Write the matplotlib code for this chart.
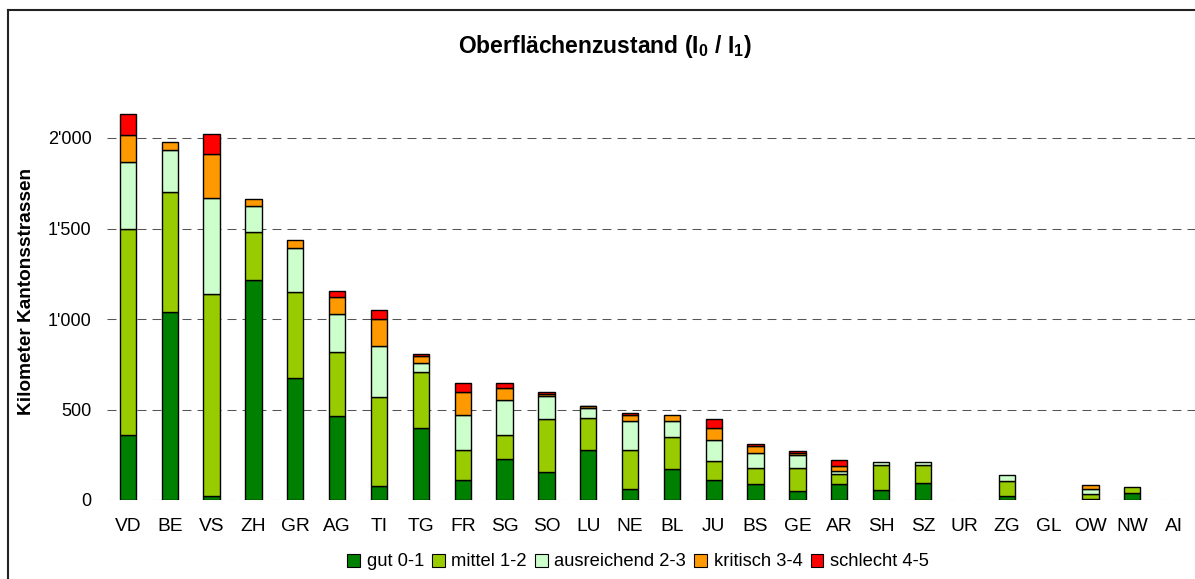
import matplotlib
matplotlib.use("Agg")
import matplotlib.pyplot as plt
from matplotlib.patches import Patch
from matplotlib.lines import Line2D
from matplotlib.ticker import FuncFormatter
import numpy as np

plt.rcParams['font.family'] = ['Liberation Sans', 'DejaVu Sans']
plt.rcParams['mathtext.fontset'] = 'custom'
plt.rcParams['mathtext.rm'] = 'Liberation Sans:bold'
plt.rcParams['mathtext.it'] = 'Liberation Sans:bold'
plt.rcParams['mathtext.bf'] = 'Liberation Sans:bold'

cantons = ["VD", "BE", "VS", "ZH", "GR", "AG", "TI", "TG", "FR", "SG", "SO", "LU", "NE",
           "BL", "JU", "BS", "GE", "AR", "SH", "SZ", "UR", "ZG", "GL", "OW", "NW", "AI"]

gut = [360, 1041, 22, 1213, 676, 464, 79, 400, 111, 227, 153, 277, 63,
       170, 111, 87, 48, 88, 55, 95, 0, 22, 0, 7, 40, 0]
mittel = [1137, 658, 1117, 267, 472, 356, 492, 308, 166, 133, 295, 178, 214,
          180, 107, 88, 131, 55, 138, 98, 0, 83, 0, 24, 33, 0]
ausreichend = [369, 236, 529, 146, 244, 207, 282, 48, 193, 193, 129, 56, 162,
               89, 114, 83, 72, 17, 18, 18, 0, 33, 0, 31, 0, 0]
kritisch = [152, 43, 245, 37, 42, 97, 148, 41, 124, 65, 10, 6, 31,
            33, 65, 41, 10, 27, 0, 0, 0, 0, 0, 21, 0, 0]
schlecht = [115, 0, 107, 0, 0, 32, 50, 9, 50, 26, 7, 5, 13,
            0, 53, 11, 9, 32, 0, 0, 0, 0, 0, 0, 0, 0]

series = [("gut 0-1", gut, "#008000"),
          ("mittel 1-2", mittel, "#99CC00"),
          ("ausreichend 2-3", ausreichend, "#CCFFCC"),
          ("kritisch 3-4", kritisch, "#FF9900"),
          ("schlecht 4-5", schlecht, "#FF0000")]

W, H = 1195, 579
fig = plt.figure(figsize=(W / 100, H / 100), dpi=100)

ax_left, ax_right = 107, 1195
ax_bottom_px, ax_top_px = 500, 92.75
ax = fig.add_axes([ax_left / W, 1 - ax_bottom_px / H,
                   (ax_right - ax_left) / W, (ax_bottom_px - ax_top_px) / H])

x = np.arange(len(cantons))
bottom = np.zeros(len(cantons))
for name, vals, col in series:
    v = np.array(vals, dtype=float)
    lw = [1.0 if val > 0 else 0.0 for val in v]
    ax.bar(x, v, width=0.39, bottom=bottom, color=col, edgecolor="black",
           linewidth=lw, zorder=3)
    bottom += v

ax.set_xlim(-0.5, len(cantons) - 0.5)
ax.set_ylim(0, 2250)
ax.set_yticks([0, 500, 1000, 1500, 2000])
ax.yaxis.set_major_formatter(FuncFormatter(lambda v, p: f"{int(v):,}".replace(",", "'")))
ax.set_xticks(x)
ax.set_xticklabels(cantons)
ax.tick_params(axis='both', length=0)
ax.tick_params(axis='x', pad=13, labelsize=13.8)
ax.tick_params(axis='y', pad=11, labelsize=13)
ax.yaxis.grid(True, linestyle=(0, (8.6, 5.8)), linewidth=0.75, color="#555555", zorder=0)
ax.set_axisbelow(True)
for s in ax.spines.values():
    s.set_visible(False)

fig.text(605 / W, 1 - 47 / H, r"Oberflächenzustand (I$_0$ / I$_1$)", ha="center", va="center",
         fontsize=16.5, fontweight="bold")
fig.text(27 / W, 1 - 291.5 / H, "Kilometer Kantonsstrassen", rotation=90, ha="center",
         va="center", fontsize=13.7, fontweight="bold")

handles = [Patch(facecolor=c, edgecolor="black", linewidth=0.8, label=n) for n, _, c in series]
fig.legend(handles=handles, loc="center", bbox_to_anchor=(638 / W, 1 - 562 / H), ncol=5,
           frameon=False, fontsize=13.2, handlelength=0.7, handleheight=0.7,
           handletextpad=0.35, columnspacing=0.45, borderaxespad=0)

fig.add_artist(Line2D([7.5 / W, 7.5 / W], [0, 1 - 10 / H], transform=fig.transFigure,
                      color="#222222", linewidth=1.5))
fig.add_artist(Line2D([7.5 / W, 1], [1 - 10 / H, 1 - 10 / H], transform=fig.transFigure,
                      color="#222222", linewidth=1.5))

fig.savefig("out.png", dpi=100)
